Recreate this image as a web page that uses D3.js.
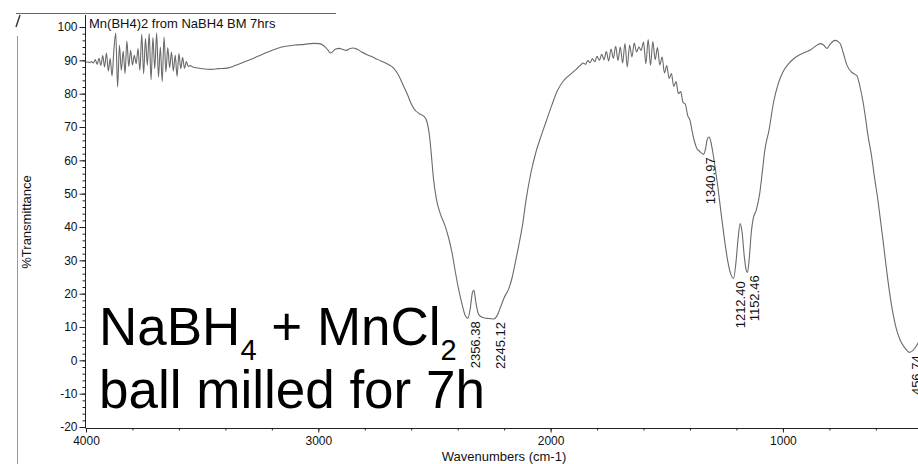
<!DOCTYPE html>
<html>
<head>
<meta charset="utf-8">
<script src="https://cdn.jsdelivr.net/npm/d3@7"></script>
<style>
  html, body { margin: 0; padding: 0; background: #fff; }
  svg { display: block; font-family: "Liberation Sans", Arial, sans-serif; }
  .axis path, .axis line { stroke: #222; }
  .axis text { fill: #111; font-size: 12px; font-family: "Liberation Sans", Arial, sans-serif; }
</style>
</head>
<body>
<div id="chart"></div>
<script>
// spectrum: [wavenumber cm-1, %T]
const highNoise = [
  [4000,89.4],[3992,89.5],[3984,89.3],[3976,89.6],[3968,89.2],[3960,90.2],[3952,88.8],[3944,90.6],
  [3936,88.5],[3928,91.4],[3920,88.0],[3912,92.2],[3904,86.8],[3896,90.5],[3888,85.3],[3880,93.0],
  [3872,98.2],[3864,82.0],[3856,94.5],[3848,87.0],[3840,92.8],[3832,86.0],[3824,95.8],[3816,88.2],
  [3808,93.0],[3800,88.6],[3792,91.5],[3784,89.0],[3776,93.5],[3768,87.0],[3760,97.8],[3752,86.0],
  [3744,96.5],[3736,88.5],[3728,98.0],[3720,84.2],[3712,96.8],[3704,87.5],[3696,98.2],[3688,85.0],
  [3680,94.0],[3672,83.6],[3664,97.0],[3656,86.5],[3648,93.8],[3640,87.8],[3632,92.5],[3624,86.8],
  [3616,91.6],[3608,85.2],[3600,92.0],[3592,87.5],[3584,90.8],[3576,87.6],[3568,89.6],[3560,88.2],
  [3552,88.4]
];

const bhStretch = [
  [3540,88.0],[3520,87.7],[3490,87.4],[3460,87.3],[3430,87.5],[3400,87.6],[3370,88.1],[3340,88.9],
  [3300,90.0],[3260,91.2],[3220,92.4],[3180,93.5],[3140,94.2],[3100,94.6],[3060,94.8],[3020,95.1],
  [2995,95.0],[2975,94.3],[2960,93.2],[2948,92.2],[2938,92.6],[2925,93.4],[2910,93.6],[2895,93.3],
  [2880,93.0],[2865,93.5],[2850,93.7],[2835,93.4],[2815,92.6],[2790,91.7],[2760,90.8],[2730,89.8],
  [2700,88.8],[2675,87.6],[2655,85.6],[2635,82.6],[2615,79.5],[2597,76.5],[2580,74.8],[2560,73.8],
  [2545,73.2],[2532,71.5],[2523,68.2],[2515,63.0],[2505,55.0],[2492,48.5],[2475,44.0],[2455,40.5],
  [2440,37.0],[2425,32.5],[2410,26.5],[2395,21.0],[2380,16.5],[2368,13.5],[2356.38,12.6],[2346,15.5],
  [2336,20.5],[2330,21.0],[2322,17.5],[2310,13.8],[2295,12.9],[2275,12.6],[2260,12.5],[2245.12,12.4],
  [2232,13.2],[2218,15.5],[2200,18.8],[2180,21.5],[2165,25.0],[2150,30.0],[2137,34.5],[2120,41.0],
  [2106,48.0],[2084,56.5],[2063,62.5],[2040,67.5],[2020,71.5],[1995,76.5],[1970,81.0],[1945,83.8],
  [1920,85.5],[1895,87.0],[1880,88.0]
];

const midNoise = [
  [1870,88.6],[1860,89.2],[1850,88.8],[1840,89.9],[1830,89.3],[1820,90.5],[1810,89.6],[1800,91.2],
  [1790,90.0],[1780,91.8],[1770,90.2],[1760,92.6],[1750,89.8],[1740,93.4],[1730,90.6],[1720,94.2],
  [1710,90.0],[1700,94.0],[1690,89.2],[1680,95.0],[1670,88.0],[1660,94.6],[1650,91.0],[1640,95.2],
  [1630,92.5],[1620,94.0],[1610,93.0],[1600,95.5],[1590,89.0],[1580,96.2],[1570,88.5],[1560,95.6],
  [1550,90.2],[1540,93.8],[1530,88.6],[1520,91.0],[1510,86.2],[1500,88.4],[1490,84.6],[1480,86.0],
  [1470,82.2],[1460,83.6],[1450,80.0],[1440,80.6],[1430,77.4],[1420,76.8],[1410,73.5],[1400,72.0],
  [1390,68.5],[1380,65.5],[1370,63.5]
];

const bhBend = [
  [1360,62.8],[1340.97,61.8],[1333,63.5],[1325,66.5],[1318,67.0],[1310,65.5],[1302,62.5],[1292,58.0],
  [1280,52.0],[1266,44.0],[1252,36.5],[1238,30.0],[1225,26.0],[1212.40,24.6],[1202,29.5],[1193,36.5],
  [1184,41.0],[1176,38.5],[1166,31.0],[1158,27.0],[1152.46,26.4],[1145,30.5],[1136,38.5],[1128,42.5],
  [1115,45.0],[1100,50.0],[1088,57.0],[1078,63.0],[1060,69.0],[1040,77.5],[1020,83.0]
];

const lowRegion = [
  [1000,86.5],[975,89.0],[955,90.4],[930,91.6],[905,92.4],[880,93.2],[860,94.2],[840,95.0],
  [825,94.6],[810,93.6],[795,95.0],[776,96.0],[762,95.6],[752,94.8],[740,92.2],[724,88.5],
  [705,86.5],[690,85.8],[681,85.3],[668,82.0],[655,77.5],[644,72.5],[634,67.5],[620,62.0],
  [605,54.5],[591,48.0],[580,42.0],[569,36.0],[558,29.5],[548,24.0],[537,18.5],[526,14.0],
  [512,9.5],[496,6.2],[480,4.2],[466,3.0],[456.74,2.4],[440,3.0],[420,5.0],[400,8.0]
];

// peak annotations printed under the minima
const peakLabels = [
  ["2356.38", 2356.38, 12.6],
  ["2245.12", 2245.12, 12.4],
  ["1340.97", 1340.97, 61.8],
  ["1212.40", 1212.40, 24.6],
  ["1152.46", 1152.46, 26.4],
  ["456.74", 456.74, 2.4]
];

const xTicks = [4000, 3000, 2000, 1000];
const yTicks = [-20, -10, 0, 10, 20, 30, 40, 50, 60, 70, 80, 90, 100];
const yMinor = d3.range(-20, 101, 2);
const xMinor = d3.range(4000, 399, -200);

const title = "Mn(BH4)2 from NaBH4 BM 7hrs";

const W = 918, H = 464;
const svg = d3.select('#chart').append('svg').attr('width', W).attr('height', H);

const x = d3.scaleLinear().domain([4000, 400]).range([86, 922.3]);
const y = d3.scaleLinear().domain([-20, 100]).range([427, 27]);

// scan leftovers: partial frame lines
svg.append('line').attr('x1', 16).attr('x2', 336).attr('y1', 13.5).attr('y2', 13.5)
  .attr('stroke', '#666').attr('stroke-width', 1);
svg.append('line').attr('x1', 17.5).attr('x2', 17.5).attr('y1', 36).attr('y2', 464)
  .attr('stroke', '#999').attr('stroke-width', 1);
svg.append('line').attr('x1', 16).attr('x2', 20).attr('y1', 27).attr('y2', 15)
  .attr('stroke', '#333').attr('stroke-width', 1.4);

// y axis (major + minor)
svg.append('g').attr('class', 'axis')
  .attr('transform', 'translate(85.5,0)')
  .call(d3.axisLeft(y).tickValues(yMinor).tickSize(3).tickFormat(''))
  .call(g => g.select('.domain').remove());
svg.append('g').attr('class', 'axis')
  .attr('transform', 'translate(85.5,0)')
  .call(d3.axisLeft(y).tickValues(yTicks).tickSize(6).tickPadding(2).tickSizeOuter(0)
    .tickFormat(d => String(d)))
  .call(g => g.select('.domain').attr('d', 'M0,15V428'));

// x axis
svg.append('g').attr('class', 'axis')
  .attr('transform', 'translate(0,428.5)')
  .call(d3.axisBottom(x).tickValues(xMinor).tickSize(2).tickFormat(''))
  .call(g => g.select('.domain').remove());
svg.append('g').attr('class', 'axis')
  .attr('transform', 'translate(0,428.5)')
  .call(d3.axisBottom(x).tickValues(xTicks).tickSize(4).tickPadding(4).tickSizeOuter(0)
    .tickFormat(d => String(d)))
  .call(g => g.select('.domain').attr('d', 'M85.5,0H918'));

// axis titles
svg.append('text')
  .attr('transform', 'translate(31,222) rotate(-90)')
  .attr('text-anchor', 'middle')
  .style('font-size', '13px').attr('fill', '#111')
  .text('%Transmittance');
svg.append('text')
  .attr('x', 504).attr('y', 461)
  .attr('text-anchor', 'middle')
  .style('font-size', '13px').attr('fill', '#111')
  .text('Wavenumbers (cm-1)');

// title in plot corner
svg.append('text')
  .attr('x', 89).attr('y', 28)
  .style('font-size', '13px').attr('fill', '#111')
  .text(title);

// spectrum
const spectrum = highNoise.concat(bhStretch, midNoise, bhBend, lowRegion);
const line = d3.line()
  .x(d => x(d[0]))
  .y(d => y(d[1]))
  .curve(d3.curveMonotoneX);

svg.append('path')
  .datum(spectrum)
  .attr('fill', 'none')
  .attr('stroke', '#6a6a6a')
  .attr('stroke-width', 1.1)
  .attr('d', line);

// peak labels, rotated, just under each minimum
svg.selectAll('.peak')
  .data(peakLabels)
  .enter().append('text')
  .attr('class', 'peak')
  .attr('transform', d => `translate(${x(d[1]) + 7},${y(d[2]) + 3}) rotate(-90)`)
  .attr('text-anchor', 'end')
  .attr('dy', '0.36em')
  .style('font-size', '13px')
  .attr('fill', '#111')
  .text(d => d[0]);

// big annotation
const note = svg.append('g').attr('fill', '#000').style('font-size', '53px');
const line1 = note.append('text').attr('x', 99).attr('y', 345);
line1.append('tspan').text('NaBH');
line1.append('tspan').style('font-size', '29px').attr('dy', 15).text('4');
line1.append('tspan').attr('dy', -15).text(' + MnCl');
line1.append('tspan').style('font-size', '29px').attr('dy', 15).text('2');
note.append('text').attr('x', 99).attr('y', 408).text('ball milled for 7h');
</script>
</body>
</html>
